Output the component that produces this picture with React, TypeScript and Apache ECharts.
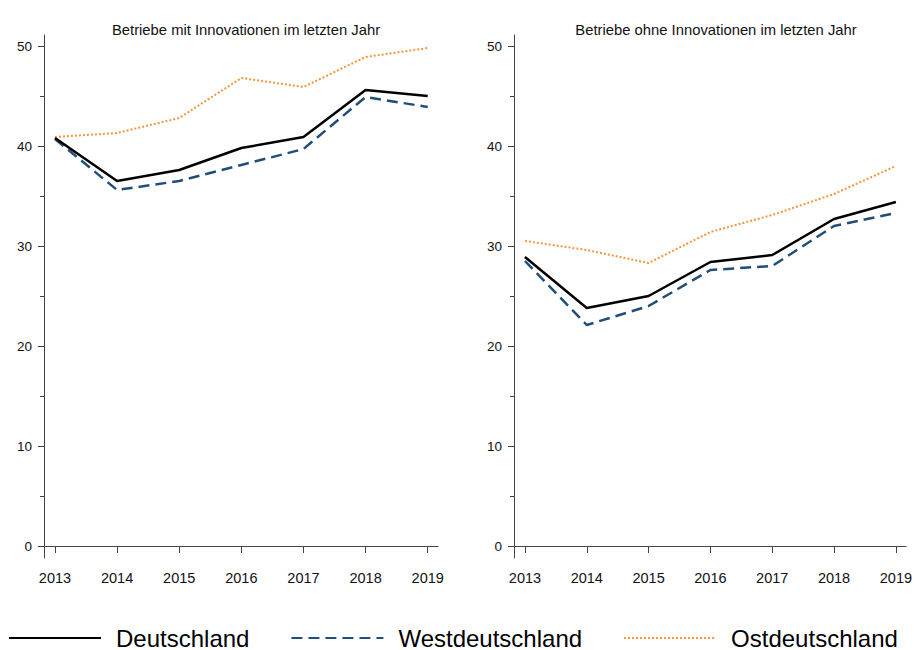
import React, { useEffect, useRef } from "react";
import * as echarts from "echarts";

const years = [2013, 2014, 2015, 2016, 2017, 2018, 2019];
const yTicks = [0, 10, 20, 30, 40, 50];
const yMinorTicks = [5, 15, 25, 35, 45];

const panelTitles = [
  "Betriebe mit Innovationen im letzten Jahr",
  "Betriebe ohne Innovationen im letzten Jahr",
];
const seriesNames = ["Deutschland", "Westdeutschland", "Ostdeutschland"];

const mitDeutschland = [40.8, 36.5, 37.6, 39.8, 40.9, 45.6, 45.0];
const mitWest = [40.7, 35.6, 36.5, 38.1, 39.7, 44.9, 43.9];
const mitOst = [40.9, 41.3, 42.8, 46.8, 45.9, 48.9, 49.8];

const ohneDeutschland = [28.9, 23.8, 25.0, 28.4, 29.1, 32.7, 34.4];
const ohneWest = [28.5, 22.1, 24.0, 27.6, 28.0, 32.0, 33.3];
const ohneOst = [30.5, 29.6, 28.3, 31.4, 33.1, 35.2, 38.0];

const FONT = "'Liberation Sans', Arial, sans-serif";
const AXIS_COLOR = "#444";

const styles: Record<string, any> = {
  Deutschland: { color: "#000000", width: 2.5, type: "solid" },
  Westdeutschland: { color: "#1f4e79", width: 2.5, type: [11, 6] },
  Ostdeutschland: { color: "#f7943a", width: 2, type: [2, 2] },
};

function pairs(vals: number[]) {
  return years.map((y, i) => [y, vals[i]]);
}

export default function App() {
  const ref = useRef<HTMLDivElement>(null);
  useEffect(() => {
    if (!ref.current) return;
    const chart = echarts.init(ref.current, undefined, { renderer: "svg" });

    const panels = [
      [mitDeutschland, mitWest, mitOst],
      [ohneDeutschland, ohneWest, ohneOst],
    ];

    const xAxis = [0, 1].map((g) => ({
      type: "value",
      gridIndex: g,
      min: 2012.823,
      max: 2019.166,
      axisLine: { show: true, lineStyle: { color: AXIS_COLOR, width: 1 } },
      axisTick: {
        show: true,
        customValues: years,
        length: 7,
        lineStyle: { color: AXIS_COLOR },
      },
      axisLabel: {
        customValues: years,
        formatter: (v: number) => String(v),
        margin: 12,
        fontSize: 14.5,
        color: "#111",
        fontFamily: FONT,
      },
      splitLine: { show: false },
    }));

    const yMain = [0, 1].map((g) => ({
      type: "value",
      gridIndex: g,
      min: -1.2,
      max: 51.1,
      axisLine: { show: true, lineStyle: { color: AXIS_COLOR, width: 1 } },
      axisTick: {
        show: true,
        customValues: yTicks,
        length: 6,
        lineStyle: { color: AXIS_COLOR },
      },
      axisLabel: {
        customValues: yTicks,
        margin: 12,
        fontSize: 13.5,
        color: "#111",
        fontFamily: FONT,
      },
      splitLine: { show: false },
    }));

    const yMinor = [0, 1].map((g) => ({
      type: "value",
      gridIndex: g,
      min: -1.2,
      max: 51.1,
      position: "left",
      axisLine: { show: false },
      axisTick: {
        show: true,
        customValues: yMinorTicks,
        length: 4,
        lineStyle: { color: AXIS_COLOR },
      },
      axisLabel: { show: false },
      splitLine: { show: false },
    }));

    const series: any[] = [];
    panels.forEach((vals, g) => {
      [2, 1, 0].forEach((k) => {
        const name = seriesNames[k];
        series.push({
          type: "line",
          name,
          xAxisIndex: g,
          yAxisIndex: g,
          data: pairs(vals[k]),
          symbol: "none",
          lineStyle: styles[name],
          itemStyle: { color: styles[name].color },
          z: 10 - k,
        });
      });
    });

    chart.setOption({
      animation: false,
      backgroundColor: "#ffffff",
      textStyle: { fontFamily: FONT },
      title: [
        {
          text: panelTitles[0],
          left: 241,
          top: 17,
          textAlign: "center",
          textStyle: { fontSize: 14.8, fontWeight: "normal", color: "#111", fontFamily: FONT },
        },
        {
          text: panelTitles[1],
          left: 711,
          top: 17,
          textAlign: "center",
          textStyle: { fontSize: 14.8, fontWeight: "normal", color: "#111", fontFamily: FONT },
        },
      ],
      grid: [
        { left: 44, top: 35, width: 394, height: 523, containLabel: false },
        { left: 514, top: 35, width: 393, height: 523, containLabel: false },
      ],
      xAxis,
      yAxis: [...yMain, ...yMinor],
      legend: {
        data: seriesNames,
        left: 8,
        top: 626,
        padding: 0,
        itemWidth: 92,
        itemHeight: 24,
        itemGap: 41,
        selectedMode: false,
        itemStyle: {
          color: "rgba(0,0,0,0)",
          borderColor: "rgba(0,0,0,0)",
          borderWidth: 0,
          opacity: 0,
        },
        textStyle: {
          fontSize: 24,
          color: "#000",
          fontFamily: FONT,
          padding: [0, 0, 0, 10],
        },
      },
      series,
    });

    return () => chart.dispose();
  }, []);

  return (
    <div
      ref={ref}
      style={{ position: "absolute", left: 0, top: 0, width: 915, height: 650 }}
    />
  );
}
